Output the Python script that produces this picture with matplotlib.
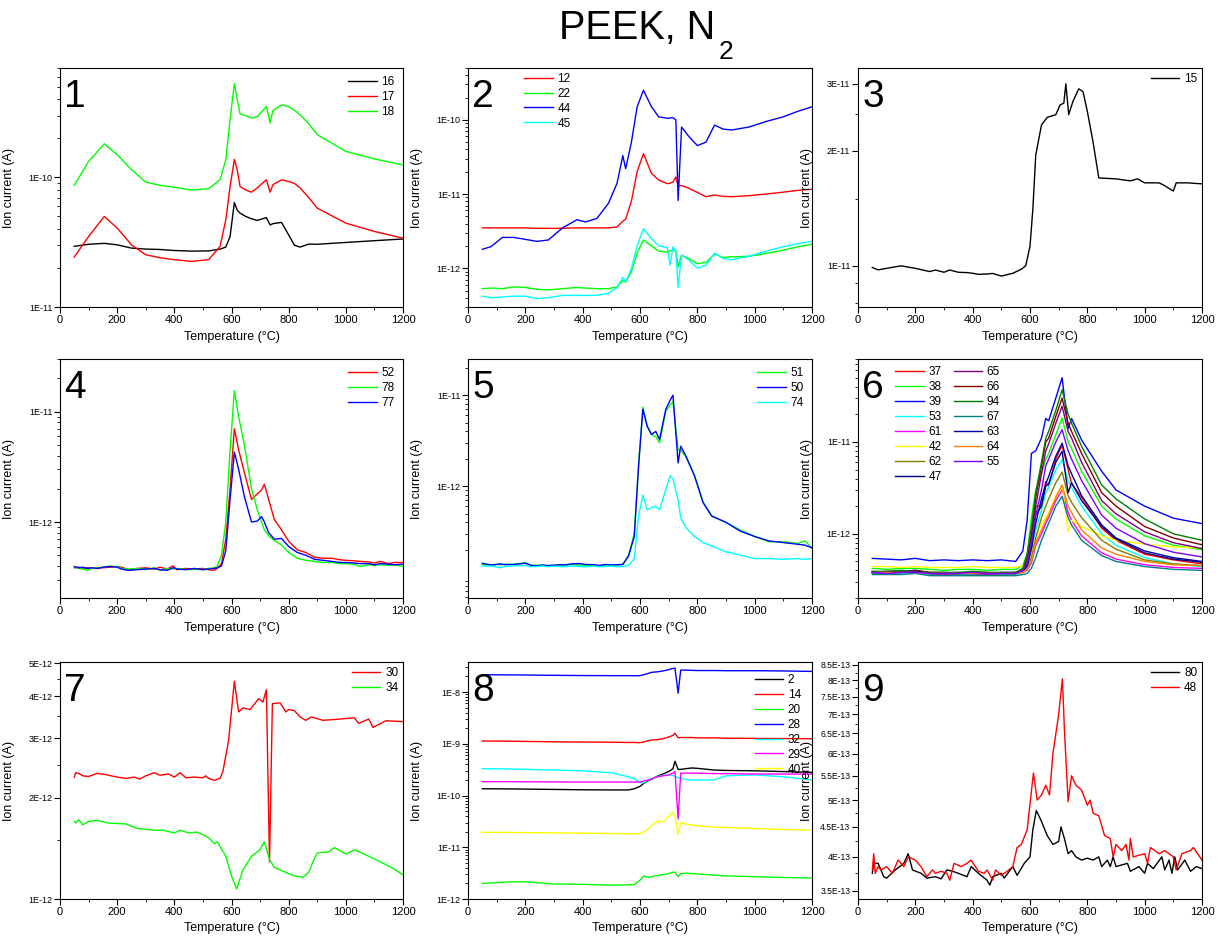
import numpy as np
import matplotlib
matplotlib.use("Agg")
import matplotlib.pyplot as plt
from matplotlib.ticker import (FixedLocator, FuncFormatter, LogLocator,
                               MultipleLocator, NullFormatter)

plt.rcParams["font.family"] = ["Liberation Sans", "DejaVu Sans"]
plt.rcParams["axes.linewidth"] = 0.8


# =========================================================
# Data (temperature in degC, ion current in A)
# =========================================================

# ---- panel 1 ----
T1 = [50, 100, 155, 200, 250, 300, 350, 400, 460, 520, 560, 580, 595, 610, 620, 630,
      650, 670, 690, 722, 735, 745, 775, 800, 820, 840, 870, 900, 1000, 1100, 1200]
P1_16 = np.array([2.94, 3.05, 3.1, 3.02, 2.85, 2.8, 2.78, 2.73, 2.7, 2.71, 2.8, 2.9, 3.5, 6.4, 5.6, 5.3,
                  5.0, 4.8, 4.66, 4.9, 4.3, 4.4, 4.5, 3.6, 3.0, 2.9, 3.06, 3.05, 3.15, 3.25, 3.35]) * 1e-11
P1_17 = np.array([2.43, 3.5, 5.0, 4.07, 3.02, 2.53, 2.4, 2.32, 2.25, 2.32, 2.94, 4.7, 8.5, 13.8, 11.5, 8.5,
                  8.0, 7.7, 8.3, 9.6, 7.7, 8.8, 9.6, 9.3, 9.0, 8.3, 7.0, 5.8, 4.44, 3.83, 3.4]) * 1e-11
P1_18 = np.array([8.7, 13.3, 18.2, 15.0, 11.5, 9.2, 8.7, 8.4, 8.0, 8.2, 9.6, 13.7, 28, 53, 40, 31,
                  30, 28.7, 29.5, 35.3, 26.3, 32.9, 36.3, 35.3, 33, 30.5, 26, 21.4, 15.9, 13.9, 12.5]) * 1e-11

# ---- panel 2 ----
T2 = [50, 80, 120, 160, 200, 240, 280, 330, 380, 410, 450, 490, 520, 540, 550, 570, 590, 612,
      640, 665, 695, 705, 715, 725, 733, 745, 770, 800, 830, 860, 890, 920, 980, 1040, 1100, 1150, 1200]
P2_12 = np.array([3.5, 3.5, 3.5, 3.5, 3.5, 3.45, 3.45, 3.45, 3.5, 3.5, 3.5, 3.5, 3.6, 4.3, 4.6, 8, 20, 35,
                  19, 15.5, 13.8, 14, 14.5, 17, 13, 13, 12, 10.5, 9.2, 9.7, 9.3, 9.2, 9.5, 10, 10.6, 11.2, 11.6]) * 1e-12
P2_22 = np.array([5.3, 5.4, 5.3, 5.6, 5.5, 5.2, 5.1, 5.3, 5.5, 5.4, 5.3, 5.3, 5.6, 6.8, 6.5, 9.0, 16, 24,
                  20, 17, 16.5, 17, 17.5, 17, 10.5, 15, 13.5, 11.5, 12, 15.5, 14, 14.2, 14.5, 15.8, 17.5, 19.5, 21]) * 1e-13
P2_44 = np.array([1.8, 1.95, 2.6, 2.6, 2.45, 2.3, 2.4, 3.5, 4.5, 4.2, 4.7, 7.5, 14, 33, 22, 50, 150, 250,
                  150, 110, 105, 106, 107, 100, 8.2, 80, 60, 45, 50, 85, 75, 73, 80, 95, 110, 130, 150]) * 1e-12
P2_45 = np.array([4.2, 4.0, 4.1, 4.2, 4.2, 3.9, 4.0, 4.3, 4.3, 4.3, 4.3, 4.6, 5.5, 7.5, 6.5, 10, 20, 34,
                  25, 20, 19, 11, 19.5, 17, 5.5, 15, 13, 10, 11, 16, 13.5, 13, 14.5, 17, 19.5, 21.5, 23]) * 1e-13

# ---- panel 3 ----
T3 = [50, 70, 100, 150, 200, 250, 270, 300, 320, 350, 380, 400, 420, 450, 470, 500, 540, 570, 585,
      600, 610, 620, 640, 660, 690, 705, 718, 725, 735, 750, 770, 785, 800, 820, 840, 900, 950, 975,
      1000, 1050, 1065, 1100, 1110, 1150, 1200]
P3_15 = np.array([0.99, 0.976, 0.985, 1.0, 0.985, 0.966, 0.975, 0.962, 0.975, 0.962, 0.96, 0.956, 0.95,
                  0.952, 0.955, 0.94, 0.956, 0.98, 1.0, 1.125, 1.41, 1.95, 2.34, 2.45, 2.49, 2.64, 2.67,
                  3.0, 2.49, 2.7, 2.91, 2.86, 2.54, 2.11, 1.7, 1.69, 1.67, 1.69, 1.65, 1.65, 1.63, 1.57,
                  1.65, 1.65, 1.64]) * 1e-11

# ---- panel 4 ----
T4 = [50, 65, 80, 95, 110, 130, 150, 175, 200, 215, 240, 270, 300, 330, 350, 375, 395, 410, 440,
      470, 500, 520, 540, 550, 565, 580, 595, 610, 625, 645, 670, 690, 705, 715, 730, 750, 775, 800,
      830, 860, 890, 920, 950, 980, 1000, 1030, 1050, 1080, 1100, 1120, 1150, 1170, 1200]
P4_52 = np.array([3.85, 3.9, 3.8, 3.85, 3.8, 3.8, 3.85, 3.9, 3.95, 3.9, 3.7, 3.8, 3.85, 3.75, 3.9, 3.75,
                  4.0, 3.7, 3.8, 3.75, 3.8, 3.7, 3.65, 3.8,
                  4.2, 7, 20, 70, 45, 28, 16, 18, 19.5, 22, 16, 10.5, 8.5, 6.7, 5.6, 5.3, 4.8, 4.7,
                  4.7, 4.55, 4.5, 4.45, 4.4, 4.35, 4.25, 4.4, 4.2, 4.3, 4.3]) * 1e-13
P4_78 = np.array([3.9, 3.8, 3.75, 3.65, 3.8, 3.85, 3.9, 4.0, 3.95, 3.8, 3.75, 3.8, 3.7, 3.85, 3.65, 3.8,
                  3.75, 3.8, 3.7, 3.75, 3.7, 3.8, 3.85, 4.0,
                  5.0, 10, 45, 155, 90, 50, 20, 13, 10, 8.5, 7.5, 6.8, 6.2, 5.3, 4.7, 4.5, 4.4, 4.3,
                  4.3, 4.2, 4.2, 4.15, 3.95, 4.1, 4.05, 4.1, 4.05, 4.1, 3.95]) * 1e-13
P4_77 = np.array([3.95, 3.85, 3.9, 3.8, 3.85, 3.8, 3.9, 3.95, 3.9, 3.75, 3.65, 3.7, 3.75, 3.8, 3.7, 3.65,
                  3.85, 3.75, 3.7, 3.8, 3.7, 3.75, 3.8, 3.85,
                  4.0, 5.5, 16, 43, 30, 17, 10, 10.2, 11.2, 10.0, 8.0, 7.0, 7.1, 6.0, 5.3, 5.0, 4.6, 4.5,
                  4.4, 4.3, 4.3, 4.25, 4.2, 4.2, 4.1, 4.2, 4.15, 4.1, 4.15]) * 1e-13

# ---- panel 5 ----
T5 = [50, 70, 90, 110, 130, 160, 200, 220, 240, 260, 280, 300, 320, 340, 360, 390, 410, 440, 460,
      480, 500, 520, 540, 560, 580, 595, 610, 625, 640, 655, 668, 690, 705, 715, 733, 742, 760, 790,
      820, 850, 900, 950, 1000, 1050, 1100, 1150, 1175, 1200]
P5_51 = np.array([1.38, 1.36, 1.38, 1.37, 1.39, 1.38, 1.45, 1.34, 1.36, 1.35, 1.33, 1.36, 1.35, 1.38,
                  1.37, 1.36, 1.35, 1.36, 1.31, 1.35, 1.37, 1.36, 1.38,
                  1.75, 3.0, 17, 74, 46, 37, 35, 30, 66, 78, 85, 25, 25, 21, 13.2, 6.7, 4.7, 4.0, 3.3,
                  2.8, 2.45, 2.45, 2.35, 2.5, 2.1]) * 1e-13
P5_50 = np.array([1.42, 1.38, 1.36, 1.4, 1.37, 1.38, 1.42, 1.35, 1.33, 1.36, 1.34, 1.35, 1.37, 1.36,
                  1.4, 1.41, 1.38, 1.37, 1.35, 1.38, 1.36, 1.37, 1.38,
                  1.7, 2.8, 16.6, 70, 45.6, 37, 40, 32.6, 70, 88, 100, 18, 27.5, 21.5, 13, 6.6, 4.7,
                  4.0, 3.2, 2.8, 2.5, 2.4, 2.3, 2.25, 2.1]) * 1e-13
P5_74 = np.array([1.33, 1.32, 1.31, 1.27, 1.31, 1.33, 1.34, 1.3, 1.31, 1.33, 1.3, 1.32, 1.31, 1.3,
                  1.33, 1.31, 1.3, 1.32, 1.3, 1.31, 1.32, 1.3, 1.31,
                  1.35, 1.6, 4.7, 8.0, 5.5, 5.8, 6.0, 5.5, 9.2, 13.0, 12.0, 7.0, 4.5, 3.5, 2.8, 2.4,
                  2.2, 1.9, 1.75, 1.6, 1.6, 1.57, 1.6, 1.57, 1.6]) * 1e-13

# ---- panel 6 ----
T6 = [50, 100, 150, 200, 250, 300, 350, 400, 450, 500, 550, 575, 590, 605, 620, 640, 655, 665,
      690, 712, 733, 745, 780, 850, 900, 1000, 1100, 1200]
P6_37 = np.array([0.39, 0.38, 0.39, 0.40, 0.38, 0.37, 0.37, 0.38, 0.37, 0.37, 0.37,
                  0.39, 0.45, 0.8, 2.0, 2.0, 3.7, 3.3, 6.5, 9.3, 5.0, 3.5, 2.5, 1.15, 0.85, 0.6, 0.52, 0.47]) * 1e-12
P6_38 = np.array([0.42, 0.41, 0.42, 0.42, 0.41, 0.40, 0.41, 0.41, 0.40, 0.41, 0.41,
                  0.45, 0.6, 1.5, 3.0, 4.5, 6.5, 7.5, 12, 18.3, 10, 8.5, 4.8, 2.0, 1.45, 0.95, 0.75, 0.67]) * 1e-12
P6_39 = np.array([0.54, 0.53, 0.52, 0.54, 0.51, 0.52, 0.51, 0.52, 0.51, 0.52, 0.50,
                  0.65, 1.4, 7.5, 8.0, 11, 18, 17, 30, 50, 14, 18, 10.5, 4.8, 3.0, 2.0, 1.48, 1.29]) * 1e-12
P6_53 = np.array([0.37, 0.37, 0.37, 0.38, 0.36, 0.36, 0.36, 0.36, 0.36, 0.36, 0.36,
                  0.38, 0.42, 0.6, 1.1, 1.8, 2.8, 3.2, 5, 6.4, 3.8, 3.2, 2.0, 1.0, 0.75, 0.55, 0.47, 0.44]) * 1e-12
P6_61 = np.array([0.38, 0.37, 0.38, 0.39, 0.37, 0.36, 0.37, 0.37, 0.36, 0.37, 0.37,
                  0.38, 0.4, 0.48, 0.75, 1.0, 1.3, 1.5, 2.3, 3.0, 1.7, 1.4, 0.95, 0.62, 0.53, 0.46, 0.43, 0.42]) * 1e-12
P6_42 = np.array([0.44, 0.44, 0.43, 0.44, 0.43, 0.43, 0.43, 0.44, 0.43, 0.43, 0.43,
                  0.45, 0.5, 0.6, 0.9, 1.3, 1.5, 1.7, 2.6, 3.4, 1.06, 1.4, 1.2, 0.95, 0.85, 0.77, 0.72, 0.7]) * 1e-12
P6_62 = np.array([0.38, 0.38, 0.38, 0.39, 0.37, 0.37, 0.37, 0.37, 0.37, 0.37, 0.37,
                  0.38, 0.42, 0.55, 0.9, 1.5, 2.0, 2.4, 3.6, 4.7, 2.6, 2.2, 1.5, 0.85, 0.68, 0.52, 0.47, 0.45]) * 1e-12
P6_47 = np.array([0.38, 0.38, 0.38, 0.39, 0.37, 0.37, 0.37, 0.37, 0.37, 0.37, 0.37,
                  0.39, 0.45, 0.7, 1.6, 2.0, 3.3, 3.5, 6, 7.9, 2.8, 3.6, 2.3, 1.2, 0.88, 0.62, 0.53, 0.49]) * 1e-12
P6_65 = np.array([0.38, 0.38, 0.39, 0.39, 0.37, 0.37, 0.38, 0.37, 0.37, 0.38, 0.38,
                  0.4, 0.5, 0.9, 2.0, 4.5, 8, 9.5, 16, 24.5, 13, 11, 6, 2.3, 1.65, 1.05, 0.8, 0.69]) * 1e-12
P6_66 = np.array([0.38, 0.39, 0.39, 0.40, 0.38, 0.38, 0.37, 0.38, 0.38, 0.37, 0.38,
                  0.41, 0.55, 1.0, 2.5, 5.5, 10, 11, 19, 30, 16, 13, 7.5, 2.8, 2.0, 1.2, 0.9, 0.76]) * 1e-12
P6_94 = np.array([0.39, 0.39, 0.40, 0.39, 0.38, 0.38, 0.38, 0.39, 0.38, 0.38, 0.38,
                  0.42, 0.6, 1.2, 2.8, 6.0, 11, 13, 22, 37, 20, 16, 9.0, 3.4, 2.4, 1.45, 1.0, 0.85]) * 1e-12
P6_67 = np.array([0.36, 0.36, 0.36, 0.37, 0.35, 0.35, 0.35, 0.35, 0.35, 0.35, 0.35,
                  0.36, 0.37, 0.42, 0.55, 0.85, 1.1, 1.3, 2.0, 2.55, 1.5, 1.25, 0.85, 0.58, 0.5, 0.44, 0.41, 0.4]) * 1e-12
P6_63 = np.array([0.38, 0.38, 0.38, 0.39, 0.37, 0.37, 0.37, 0.37, 0.37, 0.37, 0.37,
                  0.39, 0.45, 0.7, 1.3, 2.4, 3.5, 4.2, 7, 9.7, 5.5, 4.5, 2.6, 1.25, 0.9, 0.65, 0.55, 0.5]) * 1e-12
P6_64 = np.array([0.38, 0.38, 0.38, 0.38, 0.37, 0.37, 0.37, 0.37, 0.37, 0.37, 0.37,
                  0.38, 0.41, 0.5, 0.8, 1.1, 1.4, 1.6, 2.5, 3.4, 2.0, 1.7, 1.1, 0.7, 0.6, 0.5, 0.46, 0.45]) * 1e-12
P6_55 = np.array([0.38, 0.37, 0.38, 0.38, 0.37, 0.37, 0.37, 0.38, 0.37, 0.37, 0.37,
                  0.4, 0.48, 0.8, 1.6, 3.0, 5.5, 6.5, 10, 13.6, 8, 6.5, 3.8, 1.6, 1.15, 0.78, 0.63, 0.56]) * 1e-12

# ---- panel 7 ----
T7_30 = [50, 55, 65, 80, 100, 130, 160, 200, 230, 260, 280, 300, 330, 350, 380, 400, 420, 440, 470,
         500, 510, 520, 540, 560, 570, 590, 610, 625, 640, 665, 695, 710, 722, 733, 743, 770, 790, 800,
         820, 840, 860, 880, 920, 980, 1030, 1045, 1080, 1095, 1140, 1200]
P7_30 = np.array([2.3, 2.37, 2.36, 2.32, 2.31, 2.36, 2.34, 2.3, 2.28, 2.3, 2.27, 2.32, 2.37, 2.33, 2.35,
                  2.3, 2.37, 2.29, 2.3, 2.29, 2.32, 2.28, 2.25, 2.28, 2.39, 2.96, 4.43, 3.59, 3.69, 3.65,
                  3.93, 3.84, 4.18, 1.29, 3.8, 3.82, 3.59, 3.65, 3.62, 3.47, 3.39, 3.47, 3.39, 3.42, 3.45,
                  3.32, 3.42, 3.23, 3.38, 3.36]) * 1e-12
T7_34 = [50, 55, 65, 80, 100, 130, 170, 230, 270, 330, 360, 400, 420, 450, 480, 500, 520, 540, 550,
         560, 580, 600, 618, 640, 670, 700, 715, 733, 750, 790, 820, 850, 870, 885, 900, 940, 960, 1000,
         1030, 1080, 1120, 1160, 1200]
P7_34 = np.array([1.7, 1.68, 1.72, 1.66, 1.7, 1.71, 1.68, 1.67, 1.62, 1.6, 1.6, 1.57, 1.6, 1.57, 1.58,
                  1.55, 1.52, 1.46, 1.48, 1.43, 1.34, 1.17, 1.07, 1.22, 1.34, 1.4, 1.48, 1.31, 1.24, 1.2,
                  1.17, 1.16, 1.2, 1.29, 1.37, 1.38, 1.42, 1.36, 1.4, 1.34, 1.29, 1.24, 1.18]) * 1e-12

# ---- panel 8 ----
T8 = [50, 150, 200, 300, 400, 500, 560, 580, 600, 612, 630, 640, 660, 680, 700, 715, 722, 733, 742,
      760, 780, 800, 860, 900, 1000, 1100, 1200]
P8_2 = np.array([1.35, 1.34, 1.33, 1.31, 1.29, 1.28, 1.28, 1.35, 1.5, 1.7, 1.95, 2.05, 2.35, 2.6, 2.9,
                 3.3, 4.6, 3.2, 3.2, 3.3, 3.4, 3.35, 3.1, 3.05, 3.0, 2.9, 2.8]) * 1e-10
P8_14 = np.array([1.13, 1.12, 1.11, 1.09, 1.08, 1.07, 1.06, 1.06, 1.05, 1.08, 1.15, 1.18, 1.2, 1.25,
                  1.35, 1.45, 1.6, 1.3, 1.32, 1.32, 1.32, 1.3, 1.3, 1.28, 1.27, 1.26, 1.25]) * 1e-9
P8_20 = np.array([2.0, 2.15, 2.15, 1.95, 1.92, 1.85, 1.88, 1.9, 2.3, 2.8, 2.6, 2.7, 2.85, 2.95, 3.1,
                  3.3, 3.3, 2.7, 3.1, 3.15, 3.1, 3.05, 2.9, 2.8, 2.7, 2.6, 2.55]) * 1e-12
P8_28 = np.array([2.16, 2.14, 2.13, 2.1, 2.08, 2.07, 2.07, 2.06, 2.07, 2.15, 2.3, 2.4, 2.45, 2.55, 2.7,
                  2.85, 2.9, 0.95, 2.65, 2.65, 2.62, 2.6, 2.6, 2.58, 2.58, 2.55, 2.5]) * 1e-8
P8_32 = np.array([3.3, 3.25, 3.2, 3.1, 3.0, 2.75, 2.3, 2.1, 1.8, 1.75, 2.0, 2.1, 2.3, 2.45, 2.5, 2.45,
                  2.35, 2.2, 2.15, 2.05, 2.0, 2.0, 2.0, 2.4, 2.5, 2.3, 2.0]) * 1e-10
P8_29 = np.array([1.85, 1.85, 1.84, 1.83, 1.82, 1.82, 1.82, 1.82, 1.83, 1.9, 2.0, 2.1, 2.3, 2.4, 2.5,
                  2.7, 2.9, 0.35, 2.7, 2.7, 2.7, 2.7, 2.65, 2.65, 2.6, 2.6, 2.6]) * 1e-10
P8_40 = np.array([1.95, 1.93, 1.92, 1.9, 1.87, 1.84, 1.82, 1.82, 1.83, 1.95, 2.3, 2.6, 3.2, 3.1, 3.9,
                  4.8, 4.0, 1.8, 3.0, 2.8, 2.7, 2.6, 2.45, 2.4, 2.3, 2.2, 2.15]) * 1e-11

# ---- panel 9 ----
T9_80 = [50, 55, 70, 90, 100, 130, 160, 175, 190, 220, 240, 270, 290, 310, 330, 350, 380, 395, 420,
         450, 460, 470, 500, 510, 540, 555, 580, 600, 610, 622, 640, 660, 680, 700, 708, 720, 733, 745,
         760, 780, 800, 820, 840, 850, 870, 880, 890, 900, 940, 950, 980, 1000, 1010, 1030, 1060, 1070,
         1085, 1095, 1105, 1115, 1140, 1160, 1180, 1200]
P9_80 = np.array([3.75, 3.9, 3.9, 3.7, 3.68, 3.8, 3.9, 4.05, 3.8, 3.75, 3.68, 3.7, 3.67, 3.8, 3.78,
                  3.75, 3.7, 3.85, 3.75, 3.65, 3.58, 3.7, 3.75, 3.68, 3.85, 3.72, 3.9, 4.0, 4.45, 4.8,
                  4.6, 4.35, 4.2, 4.25, 4.5, 4.3, 4.05, 4.1, 4.0, 3.95, 3.98, 3.95, 4.0, 3.85, 3.95,
                  3.85, 4.0, 3.85, 3.9, 3.78, 3.85, 3.75, 3.9, 3.82, 4.0, 3.8, 3.95, 3.75, 4.0, 3.8,
                  3.95, 3.78, 3.85, 3.82]) * 1e-13
T9_48 = [50, 55, 60, 70, 80, 100, 120, 140, 160, 175, 200, 220, 240, 260, 270, 290, 310, 320, 335,
         360, 380, 395, 420, 440, 450, 470, 480, 500, 520, 540, 555, 570, 590, 612, 625, 640, 655, 668,
         680, 700, 713, 720, 733, 745, 760, 780, 800, 810, 820, 840, 860, 880, 890, 900, 920, 935, 945,
         950, 960, 1000, 1010, 1020, 1050, 1070, 1100, 1110, 1130, 1160, 1170, 1200]
P9_48 = np.array([3.8, 4.05, 3.75, 3.85, 3.8, 3.85, 3.75, 3.95, 3.85, 4.0, 3.95, 3.85, 3.7, 3.8, 3.75,
                  3.78, 3.75, 3.65, 3.9, 3.85, 3.9, 3.95, 3.78, 3.75, 3.8, 3.65, 3.8, 3.72, 3.78, 3.85,
                  4.15, 4.2, 4.45, 5.56, 5.0, 5.1, 5.3, 5.1, 6.0, 7.0, 8.05, 6.6, 4.97, 5.5, 5.3, 5.2,
                  4.9, 5.0, 4.75, 4.7, 4.35, 4.3, 4.0, 4.2, 4.1, 4.2, 3.95, 4.3, 4.0, 4.05, 3.9, 4.15,
                  4.05, 4.1, 4.0, 3.8, 4.05, 4.1, 4.15, 3.95]) * 1e-13


# Origin default palette
BLACK = "#000000"
RED = "#ff0000"
GREEN = "#00ff00"
BLUE = "#0000ff"
CYAN = "#00ffff"
MAGENTA = "#ff00ff"
YELLOW = "#ffff00"
DK_YELLOW = "#808000"
NAVY = "#000080"
PURPLE = "#800080"
WINE = "#800000"
OLIVE = "#008000"
DK_CYAN = "#008080"
ROYAL = "#0000a0"
ORANGE = "#ff8000"
VIOLET = "#8000ff"


# =========================================================
# Helpers
# =========================================================

W, H = 1217, 938
ROWS = [(68, 307), (359, 598), (662, 899)]
COLS = [(60, 403), (468, 812), (858, 1202)]


def make_axes(fig, row, col):

    top, bottom = ROWS[row]
    left, right = COLS[col]

    return fig.add_axes([left / W, 1 - bottom / H, (right - left) / W, (bottom - top) / H])


def sci_label(value, pos):

    if value <= 0:
        return ""

    exp = int(np.floor(np.log10(value) + 1e-9))
    mant = round(value / 10 ** exp, 2)

    return f"{mant:g}E{exp}"


def style_axis(ax, number, ylim, majors=None, minors=None,
               ylabel_x=-0.13, ytick_size=6.5, xlabel_pad=4):

    ax.set_yscale("log")
    ax.set_xlim(0, 1200)
    ax.set_ylim(*ylim)

    ax.xaxis.set_major_locator(MultipleLocator(200))
    ax.xaxis.set_minor_locator(MultipleLocator(100))

    if majors is not None:
        ax.yaxis.set_major_locator(FixedLocator(majors))
    else:
        ax.yaxis.set_major_locator(LogLocator(base=10))

    if minors is not None:
        ax.yaxis.set_minor_locator(FixedLocator(minors))
    else:
        ax.yaxis.set_minor_locator(LogLocator(base=10, subs=np.arange(2, 10)))

    ax.yaxis.set_major_formatter(FuncFormatter(sci_label))
    ax.yaxis.set_minor_formatter(NullFormatter())

    ax.tick_params(which="both", direction="out", top=False, right=False)
    ax.tick_params(which="major", length=4, width=0.8)
    ax.tick_params(which="minor", length=2, width=0.6)
    ax.tick_params(axis="x", labelsize=8, pad=2)
    ax.tick_params(axis="y", labelsize=ytick_size, pad=1.5)

    ax.set_xlabel("Temperature (°C)", fontsize=9, labelpad=xlabel_pad)
    ax.set_ylabel("Ion current (A)", fontsize=9)
    ax.yaxis.set_label_coords(ylabel_x, 0.5)

    ax.text(0.012, 0.955, str(number), transform=ax.transAxes,
            fontsize=28, ha="left", va="top")


def add_legend(ax, **kwargs):

    opts = dict(frameon=False, fontsize=8.5, handlelength=2.4, handletextpad=0.4,
                labelspacing=0.25, borderpad=0.2)
    opts.update(kwargs)

    ax.legend(**opts)


# =========================================================
# Figure
# =========================================================

fig = plt.figure(figsize=(W / 100, H / 100), dpi=100)

# title with a hand-placed, large subscript as in the original
fig.text(715 / W, 1 - 39.5 / H, "PEEK, N", ha="right", va="baseline", fontsize=28.5)
fig.text(719 / W, 1 - 59 / H, "2", ha="left", va="baseline", fontsize=19)

LW = 1.0

# 1
ax = make_axes(fig, 0, 0)
ax.plot(T1, P1_16, color=BLACK, lw=LW, label="16")
ax.plot(T1, P1_17, color=RED, lw=LW, label="17")
ax.plot(T1, P1_18, color=GREEN, lw=LW, label="18")
style_axis(ax, 1, (1e-11, 7e-10))
add_legend(ax, loc="upper right")

# 2
ax = make_axes(fig, 0, 1)
ax.plot(T2, P2_12, color=RED, lw=LW, label="12")
ax.plot(T2, P2_22, color=GREEN, lw=LW, label="22")
ax.plot(T2, P2_44, color=BLUE, lw=LW, label="44")
ax.plot(T2, P2_45, color=CYAN, lw=LW, label="45")
style_axis(ax, 2, (3e-13, 5e-10))
add_legend(ax, loc="upper left", bbox_to_anchor=(0.15, 1.0), borderaxespad=0.2)

# 3
ax = make_axes(fig, 0, 2)
ax.plot(T3, P3_15, color=BLACK, lw=LW, label="15")
style_axis(ax, 3, (7.8e-12, 3.3e-11), majors=[1e-11, 2e-11, 3e-11],
           minors=[8e-12, 9e-12, 1.5e-11, 2.5e-11])
add_legend(ax, loc="upper right", borderaxespad=0.2)

# 4
ax = make_axes(fig, 1, 0)
ax.plot(T4, P4_52, color=RED, lw=LW, label="52")
ax.plot(T4, P4_78, color=GREEN, lw=LW, label="78")
ax.plot(T4, P4_77, color=BLUE, lw=LW, label="77")
style_axis(ax, 4, (2.05e-13, 3e-11))
add_legend(ax, loc="upper right")

# 5
ax = make_axes(fig, 1, 1)
ax.plot(T5, P5_51, color=GREEN, lw=LW, label="51")
ax.plot(T5, P5_50, color=BLUE, lw=LW, label="50")
ax.plot(T5, P5_74, color=CYAN, lw=LW, label="74")
style_axis(ax, 5, (5.9e-14, 2.5e-11), majors=[1e-12, 1e-11])
add_legend(ax, loc="upper right")

# 6
ax = make_axes(fig, 1, 2)
panel6 = [
    ("37", RED, P6_37), ("38", GREEN, P6_38), ("39", BLUE, P6_39), ("53", CYAN, P6_53),
    ("61", MAGENTA, P6_61), ("42", YELLOW, P6_42), ("62", DK_YELLOW, P6_62), ("47", NAVY, P6_47),
    ("65", PURPLE, P6_65), ("66", WINE, P6_66), ("94", OLIVE, P6_94), ("67", DK_CYAN, P6_67),
    ("63", ROYAL, P6_63), ("64", ORANGE, P6_64), ("55", VIOLET, P6_55),
]
for label, color, values in panel6:
    ax.plot(T6, values, color=color, lw=LW, label=label)
style_axis(ax, 6, (2e-13, 8e-11))
add_legend(ax, loc="upper left", bbox_to_anchor=(0.095, 0.99), ncol=2,
           columnspacing=1.0, borderaxespad=0.2)

# 7
ax = make_axes(fig, 2, 0)
ax.plot(T7_30, P7_30, color=RED, lw=LW, label="30")
ax.plot(T7_34, P7_34, color=GREEN, lw=LW, label="34")
style_axis(ax, 7, (1e-12, 5.05e-12), majors=[1e-12, 2e-12, 3e-12, 4e-12, 5e-12],
           minors=[1.5e-12, 2.5e-12, 3.5e-12, 4.5e-12], xlabel_pad=3)
add_legend(ax, loc="upper right", borderaxespad=0.2)

# 8
ax = make_axes(fig, 2, 1)
ax.plot(T8, P8_2, color=BLACK, lw=LW, label="2")
ax.plot(T8, P8_14, color=RED, lw=LW, label="14")
ax.plot(T8, P8_20, color=GREEN, lw=LW, label="20")
ax.plot(T8, P8_28, color=BLUE, lw=LW, label="28")
ax.plot(T8, P8_32, color=CYAN, lw=LW, label="32")
ax.plot(T8, P8_29, color=MAGENTA, lw=LW, label="29")
ax.plot(T8, P8_40, color=YELLOW, lw=LW, label="40")
style_axis(ax, 8, (1e-12, 3.8e-8), xlabel_pad=3)
add_legend(ax, loc="upper right", bbox_to_anchor=(0.975, 0.96), borderaxespad=0.0)

# 9
ax = make_axes(fig, 2, 2)
ax.plot(T9_80, P9_80, color=BLACK, lw=LW, label="80")
ax.plot(T9_48, P9_48, color=RED, lw=LW, label="48")
style_axis(ax, 9, (3.39e-13, 8.6e-13),
           majors=[3.5e-13, 4e-13, 4.5e-13, 5e-13, 5.5e-13, 6e-13, 6.5e-13, 7e-13, 7.5e-13, 8e-13, 8.5e-13],
           minors=[3.75e-13, 4.25e-13, 4.75e-13, 5.25e-13, 5.75e-13, 6.25e-13, 6.75e-13,
                   7.25e-13, 7.75e-13, 8.25e-13],
           ylabel_x=-0.13, ytick_size=6.2, xlabel_pad=3)
add_legend(ax, loc="upper right", borderaxespad=0.2)

fig.savefig("out.png", dpi=100)
